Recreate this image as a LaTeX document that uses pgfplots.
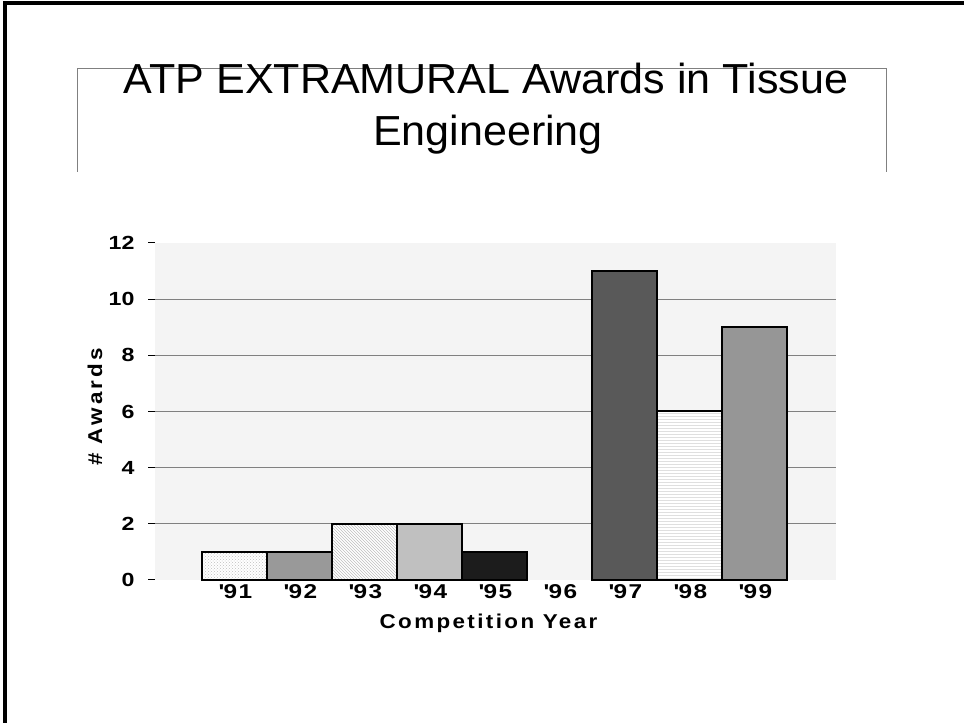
\documentclass[border=0pt]{standalone}
\usepackage{fontspec}
\setmainfont{Liberation Sans}
\newfontfamily\tickfont[FakeStretch=1.22]{Liberation Sans}
\newfontfamily\lblfont[FakeStretch=1.12]{Liberation Sans}
\newfontfamily\titlefont[FakeStretch=1.025]{Liberation Sans}
\usepackage{pgfplots}
\pgfplotsset{compat=1.18}
\usetikzlibrary{patterns}
\definecolor{bggray}{HTML}{F4F4F4}
\definecolor{gridgray}{HTML}{808080}
\definecolor{c92}{HTML}{999999}
\definecolor{c94}{HTML}{C0C0C0}
\definecolor{c95}{HTML}{1C1C1C}
\definecolor{c97}{HTML}{595959}
\definecolor{c99}{HTML}{969696}
\newcommand{\q}{\textquotesingle}
\begin{document}
\begin{tikzpicture}
\useasboundingbox (0,0) rectangle (964pt,723pt);
\fill[white] (0,0) rectangle (964pt,723pt);
% slide frame (left and top)
\draw[black, line width=3.5pt] (5pt,0pt) -- (5pt,720pt) -- (964pt,720pt);
% title box
\draw[gridgray, line width=1pt] (77pt,551pt) -- (77pt,654pt) -- (886pt,654pt) -- (886pt,551pt);
\node[anchor=base, inner sep=0pt, font=\titlefont\fontsize{42}{48}\selectfont] at (486pt,629pt) {ATP EXTRAMURAL Awards in Tissue};
\node[anchor=base, inner sep=0pt, font=\titlefont\fontsize{42}{48}\selectfont] at (488pt,577pt) {Engineering};
\begin{axis}[
  at={(155pt,143pt)}, anchor=south west,
  scale only axis, width=681pt, height=337pt,
  xmin=-0.223, xmax=10.254, ymin=0, ymax=12,
  axis background/.style={fill=bggray},
  axis line style={draw=none},
  xtick={1,...,9},
  xticklabels={\q 91,\q 92,\q 93,\q 94,\q 95,\q 96,\q 97,\q 98,\q 99},
  xtick style={draw=none},
  ytick={0,2,...,12},
  ytick pos=left, tick align=outside,
  ytick style={black, line width=1pt},
  major tick length=7pt,
  extra y ticks={2,4,6,8,10},
  extra y tick labels={},
  extra y tick style={grid=major, major grid style={gridgray, line width=1.1pt}},
  /pgf/number format/assume math mode=true,
  yticklabel style={font=\tickfont\bfseries\fontsize{19}{19}\selectfont, xshift=-10pt},
  xticklabel style={font=\tickfont\bfseries\fontsize{20}{20}\selectfont\addfontfeature{LetterSpace=8}, yshift=6pt, xshift=1pt},
  xlabel={\addfontfeature{LetterSpace=12}Competition Year},
  ylabel={\addfontfeature{LetterSpace=15}\# Awards},
  every axis x label/.style={at={(axis description cs:0.5,0)}, anchor=base, yshift=-49pt, xshift=-7pt, font=\lblfont\bfseries\fontsize{20}{20}\selectfont},
  every axis y label/.style={at={(axis description cs:-0.088,0.513)}, anchor=center, rotate=90, font=\lblfont\bfseries\fontsize{20}{20}\selectfont},
  clip=false,
  mybar/.style={ybar, bar width=1, bar shift=0pt, draw=black, line width=2pt},
]
\addplot[mybar, fill=white, postaction={pattern=crosshatch dots, pattern color=gray!50}] coordinates {(1,1)};
\addplot[mybar, fill=c92] coordinates {(2,1)};
\addplot[mybar, fill=white, postaction={pattern=north west lines, pattern color=gray!50}] coordinates {(3,2)};
\addplot[mybar, fill=c94] coordinates {(4,2)};
\addplot[mybar, fill=c95] coordinates {(5,1)};
\addplot[mybar, fill=c97] coordinates {(7,11)};
\addplot[mybar, fill=white, postaction={pattern=horizontal lines, pattern color=gray!25}] coordinates {(8,6)};
\addplot[mybar, fill=c99] coordinates {(9,9)};
\end{axis}
\end{tikzpicture}
\end{document}
